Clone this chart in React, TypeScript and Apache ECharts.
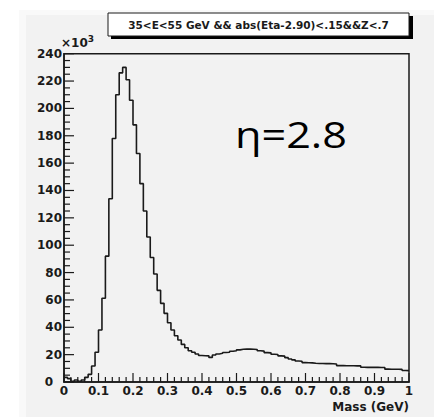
import React, { useEffect, useRef } from "react";
import * as echarts from "echarts";

// Histogram: 100 bins of 0.01 GeV from 0 to 1, counts in units of 10^3
const binWidth = 0.01;
const counts: number[] = [
  3.4, 2.5, 0.5, 1.5, 0.5, 1.5, 3.4, 5.6, 11.7, 21.8,
  38, 61.2, 92, 134, 178, 210, 226, 230, 221, 206,
  188, 167, 145, 125, 106, 91, 79, 67, 57.5, 50.2,
  43.3, 38, 33.8, 30.7, 27.5, 25, 22.8, 21.7, 20.5, 19.4,
  19.2, 19.1, 18, 19.7, 20.5, 21, 21.6, 21.8, 22.5, 22.9,
  23.5, 23.9, 24, 24, 23.9, 23.8, 22.8, 22.6, 21.5, 21.3,
  20.3, 20.1, 19.1, 18.9, 17.8, 16.8, 16.2, 15.4, 15.2, 14.2,
  14.1, 14, 13.7, 13.5, 13.5, 13.4, 13.4, 13.3, 13.2, 12,
  12, 11.9, 11.9, 11.9, 11.8, 11.8, 10.8, 10.7, 10.7, 10.7,
  10.7, 10.6, 10.6, 9.4, 9.3, 9.3, 9.3, 9.2, 8.4, 8.3,
];
const yTicks: number[] = [0, 20, 40, 60, 80, 100, 120, 140, 160, 180, 200, 220, 240];
const xTicks: number[] = [0, 0.1, 0.2, 0.3, 0.4, 0.5, 0.6, 0.7, 0.8, 0.9, 1];
const xMinorDivisions = 5;
const yMinorDivisions = 4;
const titleText = "35<E<55 GeV && abs(Eta-2.90)<.15&&Z<.7";
const xTitle = "Mass (GeV)";
const annotation = "η=2.8";

const G_LEFT = 64;
const G_TOP = 53.7;
const G_W = 345;
const G_H = 328.3;

function tickList(major: number[], div: number): [number, number][] {
  const out: [number, number][] = [];
  for (let i = 0; i < major.length; i++) {
    out.push([major[i], 1]);
    if (i < major.length - 1) {
      const step = (major[i + 1] - major[i]) / div;
      for (let k = 1; k < div; k++) out.push([major[i] + k * step, 0]);
    }
  }
  return out;
}

export default function App() {
  const ref = useRef<HTMLDivElement>(null);
  useEffect(() => {
    if (!ref.current) return;
    const chart = echarts.init(ref.current, null, { renderer: "svg" });
    const data: [number, number][] = counts.map((v, i) => [i * binWidth, v]);
    data.push([counts.length * binWidth, counts[counts.length - 1]]);
    const xTickData = tickList(xTicks, xMinorDivisions).map(([v, m]) => [v, yTicks[0], m]);
    const yTickData = tickList(yTicks, yMinorDivisions).map(([v, m]) => [xTicks[0], v, m]);
    const labelFont = {
      fontFamily: "DejaVu Sans",
      fontWeight: "bold" as const,
      fontSize: 12,
      color: "#1a1a1a",
    };
    chart.setOption({
      animation: false,
      backgroundColor: "#f2f2f2",
      grid: {
        left: G_LEFT,
        top: G_TOP,
        width: G_W,
        height: G_H,
        show: true,
        backgroundColor: "transparent",
        borderColor: "#1a1a1a",
        borderWidth: 1.5,
      },
      xAxis: {
        type: "value",
        min: xTicks[0],
        max: xTicks[xTicks.length - 1],
        interval: 0.1,
        axisLine: { show: true, onZero: false, lineStyle: { color: "#1a1a1a", width: 1.5 } },
        axisTick: { show: false },
        splitLine: { show: false },
        axisLabel: {
          ...labelFont,
          margin: 3,
          showMinLabel: true,
          showMaxLabel: true,
          formatter: (v: number) => (v === 0 ? "0" : v === 1 ? "1" : v.toFixed(1)),
        },
      },
      yAxis: {
        type: "value",
        min: yTicks[0],
        max: yTicks[yTicks.length - 1],
        interval: 20,
        axisLine: { show: true, onZero: false, lineStyle: { color: "#1a1a1a", width: 1.5 } },
        axisTick: { show: false },
        splitLine: { show: false },
        axisLabel: {
          ...labelFont,
          margin: 2,
          formatter: (v: number) => (v === 0 ? "{z|0}" : String(v)),
          rich: {
            z: { ...labelFont, padding: [0, 9, 0, 0] },
          },
        },
      },
      series: [
        {
          type: "line",
          step: "end",
          data,
          symbol: "none",
          lineStyle: { color: "#1a1a1a", width: 1.6 },
          z: 3,
        },
        {
          type: "custom",
          coordinateSystem: "cartesian2d",
          data: xTickData,
          encode: { x: 0, y: 1 },
          clip: false,
          silent: true,
          z: 4,
          renderItem: (_p: any, api: any) => {
            const p = api.coord([api.value(0), api.value(1)]);
            const len = api.value(2) === 1 ? 9 : 5;
            return {
              type: "rect",
              shape: { x: p[0] - 0.6, y: p[1] - len, width: 1.2, height: len },
              style: { fill: "#1a1a1a" },
            };
          },
        },
        {
          type: "custom",
          coordinateSystem: "cartesian2d",
          data: yTickData,
          encode: { x: 0, y: 1 },
          clip: false,
          silent: true,
          z: 4,
          renderItem: (_p: any, api: any) => {
            const p = api.coord([api.value(0), api.value(1)]);
            const len = api.value(2) === 1 ? 10 : 6;
            return {
              type: "rect",
              shape: { x: p[0], y: p[1] - 0.6, width: len, height: 1.2 },
              style: { fill: "#1a1a1a" },
            };
          },
        },
      ],
      graphic: [
        { type: "rect", silent: true, shape: { x: 0, y: 0, width: 434, height: 10 }, style: { fill: "#ffffff" } },
        { type: "rect", silent: true, shape: { x: 0, y: 0, width: 19, height: 417 }, style: { fill: "#ffffff" } },
        { type: "rect", silent: true, shape: { x: 19, y: 10, width: 415, height: 5 }, style: { fill: "#f9f9f9" } },
        { type: "rect", silent: true, shape: { x: 19, y: 10, width: 7, height: 407 }, style: { fill: "#f9f9f9" } },
        { type: "rect", z: 10, shape: { x: 111, y: 16, width: 302, height: 23 }, style: { fill: "#000" } },
        {
          type: "rect",
          z: 11,
          shape: { x: 108, y: 13, width: 301, height: 23 },
          style: { fill: "#ffffff", stroke: "#1a1a1a", lineWidth: 1 },
        },
        {
          type: "text",
          z: 12,
          x: 258.5,
          y: 24.5,
          style: {
            text: titleText,
            fontFamily: "DejaVu Sans",
            fontWeight: "bold",
            fontSize: 10.5,
            fill: "#1a1a1a",
            align: "center",
            verticalAlign: "middle",
          },
        },
        {
          type: "text",
          z: 12,
          x: 61,
          y: 51,
          style: {
            text: "×10{s|3}",
            rich: {
              s: { fontFamily: "DejaVu Sans", fontWeight: "bold", fontSize: 9, verticalAlign: "top", padding: [0, 0, 8, 0], fill: "#1a1a1a" },
            },
            fontFamily: "DejaVu Sans",
            fontWeight: "bold",
            fontSize: 12,
            fill: "#1a1a1a",
            align: "left",
            verticalAlign: "bottom",
          },
        },
        {
          type: "text",
          z: 12,
          x: 409,
          y: 407,
          style: {
            text: xTitle,
            fontFamily: "DejaVu Sans",
            fontWeight: "bold",
            fontSize: 12,
            fill: "#1a1a1a",
            align: "right",
            verticalAlign: "middle",
          },
        },
        {
          type: "text",
          z: 12,
          x: 235,
          y: 116,
          scaleX: 1.2,
          style: {
            text: annotation,
            fontFamily: "Open Sans",
            fontSize: 36,
            fill: "#000",
            align: "left",
            verticalAlign: "top",
          },
        },
      ],
    });
    return () => chart.dispose();
  }, []);
  return (
    <div
      ref={ref}
      style={{ position: "fixed", left: 0, top: 0, width: 434, height: 417 }}
    />
  );
}
